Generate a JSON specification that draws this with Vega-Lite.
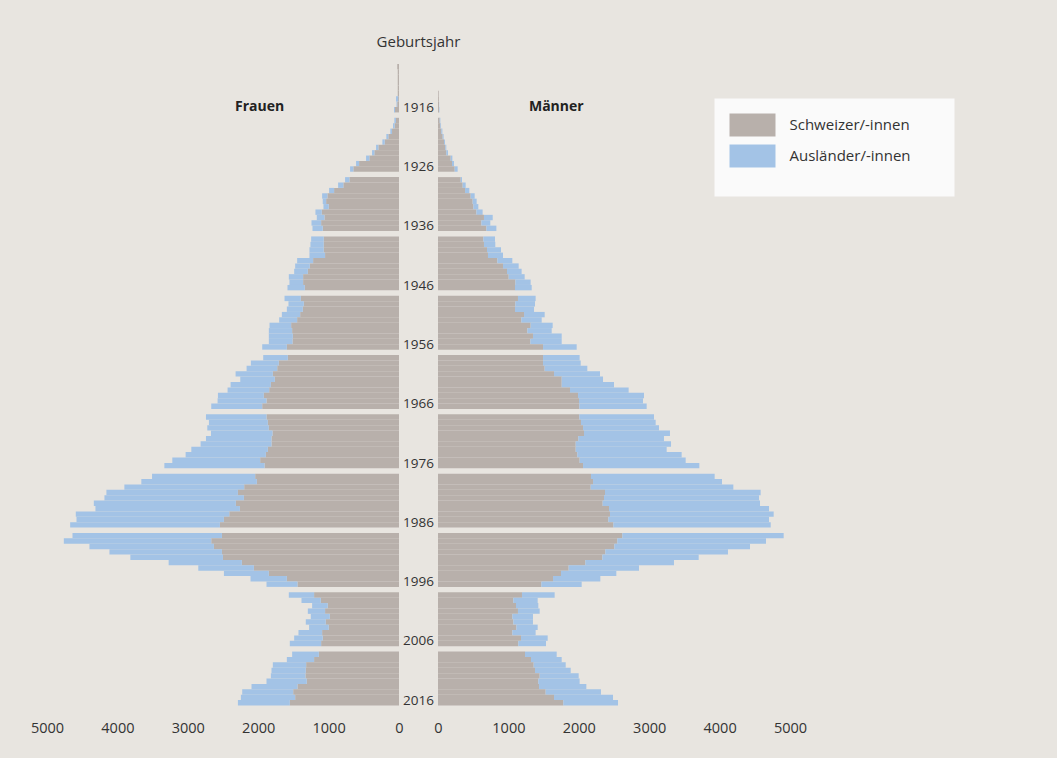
{
"$schema": "https://vega.github.io/schema/vega-lite/v6.json",
"background": "#e8e5e0",
"padding": {"left": 30, "top": 34.5, "right": 113, "bottom": 23.5},
"bounds": "flush",
"spacing": 0,
"config": {
  "font": "Open Sans",
  "view": {"stroke": null},
  "axis": {"domain": false, "ticks": false, "grid": false, "labelFontSize": 14.5, "labelColor": "#333333", "labelPadding": 16, "labelFlush": false, "labelOverlap": false, "title": null, "labelFont": "Open Sans"}
},
"datasets": {
"frauen": [
{"jahr":"1907","Schweizer/-innen":0,"Ausländer/-innen":0},
{"jahr":"1908","Schweizer/-innen":25,"Ausländer/-innen":0},
{"jahr":"1909","Schweizer/-innen":18,"Ausländer/-innen":0},
{"jahr":"1910","Schweizer/-innen":18,"Ausländer/-innen":0},
{"jahr":"1911","Schweizer/-innen":18,"Ausländer/-innen":0},
{"jahr":"1912","Schweizer/-innen":18,"Ausländer/-innen":0},
{"jahr":"1913","Schweizer/-innen":18,"Ausländer/-innen":0},
{"jahr":"1914","Schweizer/-innen":12,"Ausländer/-innen":30},
{"jahr":"1915","Schweizer/-innen":25,"Ausländer/-innen":10},
{"jahr":"1916","Schweizer/-innen":57,"Ausländer/-innen":14},
{"jahr":"1917","Schweizer/-innen":43,"Ausländer/-innen":23},
{"jahr":"1918","Schweizer/-innen":61,"Ausländer/-innen":24},
{"jahr":"1919","Schweizer/-innen":99,"Ausländer/-innen":24},
{"jahr":"1920","Schweizer/-innen":151,"Ausländer/-innen":29},
{"jahr":"1921","Schweizer/-innen":203,"Ausländer/-innen":33},
{"jahr":"1922","Schweizer/-innen":293,"Ausländer/-innen":33},
{"jahr":"1923","Schweizer/-innen":350,"Ausländer/-innen":33},
{"jahr":"1924","Schweizer/-innen":421,"Ausländer/-innen":47},
{"jahr":"1925","Schweizer/-innen":567,"Ausländer/-innen":43},
{"jahr":"1926","Schweizer/-innen":648,"Ausländer/-innen":47},
{"jahr":"1927","Schweizer/-innen":704,"Ausländer/-innen":62},
{"jahr":"1928","Schweizer/-innen":790,"Ausländer/-innen":75},
{"jahr":"1929","Schweizer/-innen":922,"Ausländer/-innen":71},
{"jahr":"1930","Schweizer/-innen":1017,"Ausländer/-innen":75},
{"jahr":"1931","Schweizer/-innen":1035,"Ausländer/-innen":48},
{"jahr":"1932","Schweizer/-innen":998,"Ausländer/-innen":75},
{"jahr":"1933","Schweizer/-innen":1097,"Ausländer/-innen":90},
{"jahr":"1934","Schweizer/-innen":1059,"Ausländer/-innen":109},
{"jahr":"1935","Schweizer/-innen":1106,"Ausländer/-innen":137},
{"jahr":"1936","Schweizer/-innen":1083,"Ausländer/-innen":146},
{"jahr":"1937","Schweizer/-innen":1069,"Ausländer/-innen":179},
{"jahr":"1938","Schweizer/-innen":1069,"Ausländer/-innen":189},
{"jahr":"1939","Schweizer/-innen":1069,"Ausländer/-innen":203},
{"jahr":"1940","Schweizer/-innen":1050,"Ausländer/-innen":222},
{"jahr":"1941","Schweizer/-innen":1220,"Ausländer/-innen":227},
{"jahr":"1942","Schweizer/-innen":1267,"Ausländer/-innen":208},
{"jahr":"1943","Schweizer/-innen":1295,"Ausländer/-innen":194},
{"jahr":"1944","Schweizer/-innen":1362,"Ausländer/-innen":203},
{"jahr":"1945","Schweizer/-innen":1362,"Ausländer/-innen":194},
{"jahr":"1946","Schweizer/-innen":1338,"Ausländer/-innen":246},
{"jahr":"1947","Schweizer/-innen":1395,"Ausländer/-innen":231},
{"jahr":"1948","Schweizer/-innen":1352,"Ausländer/-innen":218},
{"jahr":"1949","Schweizer/-innen":1366,"Ausländer/-innen":227},
{"jahr":"1950","Schweizer/-innen":1404,"Ausländer/-innen":260},
{"jahr":"1951","Schweizer/-innen":1447,"Ausländer/-innen":255},
{"jahr":"1952","Schweizer/-innen":1532,"Ausländer/-innen":307},
{"jahr":"1953","Schweizer/-innen":1518,"Ausländer/-innen":331},
{"jahr":"1954","Schweizer/-innen":1508,"Ausländer/-innen":341},
{"jahr":"1955","Schweizer/-innen":1513,"Ausländer/-innen":336},
{"jahr":"1956","Schweizer/-innen":1593,"Ausländer/-innen":350},
{"jahr":"1957","Schweizer/-innen":1579,"Ausländer/-innen":350},
{"jahr":"1958","Schweizer/-innen":1707,"Ausländer/-innen":397},
{"jahr":"1959","Schweizer/-innen":1730,"Ausländer/-innen":435},
{"jahr":"1960","Schweizer/-innen":1792,"Ausländer/-innen":529},
{"jahr":"1961","Schweizer/-innen":1764,"Ausländer/-innen":491},
{"jahr":"1962","Schweizer/-innen":1820,"Ausländer/-innen":572},
{"jahr":"1963","Schweizer/-innen":1844,"Ausländer/-innen":591},
{"jahr":"1964","Schweizer/-innen":1920,"Ausländer/-innen":652},
{"jahr":"1965","Schweizer/-innen":1882,"Ausländer/-innen":695},
{"jahr":"1966","Schweizer/-innen":1943,"Ausländer/-innen":724},
{"jahr":"1967","Schweizer/-innen":1882,"Ausländer/-innen":860},
{"jahr":"1968","Schweizer/-innen":1863,"Ausländer/-innen":837},
{"jahr":"1969","Schweizer/-innen":1849,"Ausländer/-innen":874},
{"jahr":"1970","Schweizer/-innen":1797,"Ausländer/-innen":874},
{"jahr":"1971","Schweizer/-innen":1811,"Ausländer/-innen":931},
{"jahr":"1972","Schweizer/-innen":1811,"Ausländer/-innen":1007},
{"jahr":"1973","Schweizer/-innen":1863,"Ausländer/-innen":1087},
{"jahr":"1974","Schweizer/-innen":1891,"Ausländer/-innen":1140},
{"jahr":"1975","Schweizer/-innen":1972,"Ausländer/-innen":1248},
{"jahr":"1976","Schweizer/-innen":1910,"Ausländer/-innen":1423},
{"jahr":"1977","Schweizer/-innen":2043,"Ausländer/-innen":1465},
{"jahr":"1978","Schweizer/-innen":2019,"Ausländer/-innen":1641},
{"jahr":"1979","Schweizer/-innen":2199,"Ausländer/-innen":1702},
{"jahr":"1980","Schweizer/-innen":2288,"Ausländer/-innen":1868},
{"jahr":"1981","Schweizer/-innen":2203,"Ausländer/-innen":1981},
{"jahr":"1982","Schweizer/-innen":2317,"Ausländer/-innen":2018},
{"jahr":"1983","Schweizer/-innen":2260,"Ausländer/-innen":2052},
{"jahr":"1984","Schweizer/-innen":2411,"Ausländer/-innen":2180},
{"jahr":"1985","Schweizer/-innen":2487,"Ausländer/-innen":2094},
{"jahr":"1986","Schweizer/-innen":2544,"Ausländer/-innen":2127},
{"jahr":"1987","Schweizer/-innen":2515,"Ausländer/-innen":2123},
{"jahr":"1988","Schweizer/-innen":2667,"Ausländer/-innen":2094},
{"jahr":"1989","Schweizer/-innen":2629,"Ausländer/-innen":1768},
{"jahr":"1990","Schweizer/-innen":2515,"Ausländer/-innen":1598},
{"jahr":"1991","Schweizer/-innen":2501,"Ausländer/-innen":1315},
{"jahr":"1992","Schweizer/-innen":2232,"Ausländer/-innen":1040},
{"jahr":"1993","Schweizer/-innen":2061,"Ausländer/-innen":790},
{"jahr":"1994","Schweizer/-innen":1849,"Ausländer/-innen":638},
{"jahr":"1995","Schweizer/-innen":1593,"Ausländer/-innen":516},
{"jahr":"1996","Schweizer/-innen":1442,"Ausländer/-innen":440},
{"jahr":"1997","Schweizer/-innen":1206,"Ausländer/-innen":359},
{"jahr":"1998","Schweizer/-innen":1111,"Ausländer/-innen":274},
{"jahr":"1999","Schweizer/-innen":1012,"Ausländer/-innen":222},
{"jahr":"2000","Schweizer/-innen":1050,"Ausländer/-innen":245},
{"jahr":"2001","Schweizer/-innen":983,"Ausländer/-innen":270},
{"jahr":"2002","Schweizer/-innen":1040,"Ausländer/-innen":284},
{"jahr":"2003","Schweizer/-innen":998,"Ausländer/-innen":279},
{"jahr":"2004","Schweizer/-innen":1092,"Ausländer/-innen":336},
{"jahr":"2005","Schweizer/-innen":1083,"Ausländer/-innen":406},
{"jahr":"2006","Schweizer/-innen":1106,"Ausländer/-innen":445},
{"jahr":"2007","Schweizer/-innen":1139,"Ausländer/-innen":379},
{"jahr":"2008","Schweizer/-innen":1206,"Ausländer/-innen":387},
{"jahr":"2009","Schweizer/-innen":1319,"Ausländer/-innen":473},
{"jahr":"2010","Schweizer/-innen":1324,"Ausländer/-innen":487},
{"jahr":"2011","Schweizer/-innen":1329,"Ausländer/-innen":491},
{"jahr":"2012","Schweizer/-innen":1310,"Ausländer/-innen":572},
{"jahr":"2013","Schweizer/-innen":1442,"Ausländer/-innen":653},
{"jahr":"2014","Schweizer/-innen":1503,"Ausländer/-innen":724},
{"jahr":"2015","Schweizer/-innen":1475,"Ausländer/-innen":771},
{"jahr":"2016","Schweizer/-innen":1551,"Ausländer/-innen":737}
],
"maenner": [
{"jahr":"1907","Schweizer/-innen":0,"Ausländer/-innen":0},
{"jahr":"1908","Schweizer/-innen":0,"Ausländer/-innen":0},
{"jahr":"1909","Schweizer/-innen":0,"Ausländer/-innen":0},
{"jahr":"1910","Schweizer/-innen":0,"Ausländer/-innen":0},
{"jahr":"1911","Schweizer/-innen":0,"Ausländer/-innen":0},
{"jahr":"1912","Schweizer/-innen":0,"Ausländer/-innen":0},
{"jahr":"1913","Schweizer/-innen":10,"Ausländer/-innen":0},
{"jahr":"1914","Schweizer/-innen":12,"Ausländer/-innen":0},
{"jahr":"1915","Schweizer/-innen":14,"Ausländer/-innen":2},
{"jahr":"1916","Schweizer/-innen":14,"Ausländer/-innen":6},
{"jahr":"1917","Schweizer/-innen":24,"Ausländer/-innen":9},
{"jahr":"1918","Schweizer/-innen":33,"Ausländer/-innen":10},
{"jahr":"1919","Schweizer/-innen":47,"Ausländer/-innen":15},
{"jahr":"1920","Schweizer/-innen":66,"Ausländer/-innen":14},
{"jahr":"1921","Schweizer/-innen":85,"Ausländer/-innen":14},
{"jahr":"1922","Schweizer/-innen":104,"Ausländer/-innen":14},
{"jahr":"1923","Schweizer/-innen":118,"Ausländer/-innen":24},
{"jahr":"1924","Schweizer/-innen":180,"Ausländer/-innen":24},
{"jahr":"1925","Schweizer/-innen":199,"Ausländer/-innen":28},
{"jahr":"1926","Schweizer/-innen":237,"Ausländer/-innen":42},
{"jahr":"1927","Schweizer/-innen":322,"Ausländer/-innen":19},
{"jahr":"1928","Schweizer/-innen":350,"Ausländer/-innen":43},
{"jahr":"1929","Schweizer/-innen":384,"Ausländer/-innen":61},
{"jahr":"1930","Schweizer/-innen":464,"Ausländer/-innen":57},
{"jahr":"1931","Schweizer/-innen":492,"Ausländer/-innen":57},
{"jahr":"1932","Schweizer/-innen":502,"Ausländer/-innen":71},
{"jahr":"1933","Schweizer/-innen":545,"Ausländer/-innen":89},
{"jahr":"1934","Schweizer/-innen":653,"Ausländer/-innen":124},
{"jahr":"1935","Schweizer/-innen":616,"Ausländer/-innen":127},
{"jahr":"1936","Schweizer/-innen":687,"Ausländer/-innen":142},
{"jahr":"1937","Schweizer/-innen":644,"Ausländer/-innen":166},
{"jahr":"1938","Schweizer/-innen":653,"Ausländer/-innen":161},
{"jahr":"1939","Schweizer/-innen":696,"Ausländer/-innen":199},
{"jahr":"1940","Schweizer/-innen":710,"Ausländer/-innen":213},
{"jahr":"1941","Schweizer/-innen":843,"Ausländer/-innen":213},
{"jahr":"1942","Schweizer/-innen":923,"Ausländer/-innen":223},
{"jahr":"1943","Schweizer/-innen":980,"Ausländer/-innen":208},
{"jahr":"1944","Schweizer/-innen":1004,"Ausländer/-innen":227},
{"jahr":"1945","Schweizer/-innen":1099,"Ausländer/-innen":217},
{"jahr":"1946","Schweizer/-innen":1094,"Ausländer/-innen":237},
{"jahr":"1947","Schweizer/-innen":1136,"Ausländer/-innen":251},
{"jahr":"1948","Schweizer/-innen":1099,"Ausländer/-innen":279},
{"jahr":"1949","Schweizer/-innen":1094,"Ausländer/-innen":270},
{"jahr":"1950","Schweizer/-innen":1222,"Ausländer/-innen":293},
{"jahr":"1951","Schweizer/-innen":1184,"Ausländer/-innen":289},
{"jahr":"1952","Schweizer/-innen":1316,"Ausländer/-innen":313},
{"jahr":"1953","Schweizer/-innen":1269,"Ausländer/-innen":346},
{"jahr":"1954","Schweizer/-innen":1349,"Ausländer/-innen":408},
{"jahr":"1955","Schweizer/-innen":1312,"Ausländer/-innen":445},
{"jahr":"1956","Schweizer/-innen":1492,"Ausländer/-innen":478},
{"jahr":"1957","Schweizer/-innen":1492,"Ausländer/-innen":520},
{"jahr":"1958","Schweizer/-innen":1492,"Ausländer/-innen":535},
{"jahr":"1959","Schweizer/-innen":1515,"Ausländer/-innen":606},
{"jahr":"1960","Schweizer/-innen":1648,"Ausländer/-innen":653},
{"jahr":"1961","Schweizer/-innen":1757,"Ausländer/-innen":587},
{"jahr":"1962","Schweizer/-innen":1757,"Ausländer/-innen":743},
{"jahr":"1963","Schweizer/-innen":1875,"Ausländer/-innen":833},
{"jahr":"1964","Schweizer/-innen":1989,"Ausländer/-innen":937},
{"jahr":"1965","Schweizer/-innen":2003,"Ausländer/-innen":909},
{"jahr":"1966","Schweizer/-innen":2008,"Ausländer/-innen":956},
{"jahr":"1967","Schweizer/-innen":2008,"Ausländer/-innen":1060},
{"jahr":"1968","Schweizer/-innen":2031,"Ausländer/-innen":1061},
{"jahr":"1969","Schweizer/-innen":2060,"Ausländer/-innen":1079},
{"jahr":"1970","Schweizer/-innen":2074,"Ausländer/-innen":1221},
{"jahr":"1971","Schweizer/-innen":1993,"Ausländer/-innen":1217},
{"jahr":"1972","Schweizer/-innen":1956,"Ausländer/-innen":1354},
{"jahr":"1973","Schweizer/-innen":1956,"Ausländer/-innen":1292},
{"jahr":"1974","Schweizer/-innen":1979,"Ausländer/-innen":1482},
{"jahr":"1975","Schweizer/-innen":2012,"Ausländer/-innen":1506},
{"jahr":"1976","Schweizer/-innen":2060,"Ausländer/-innen":1652},
{"jahr":"1977","Schweizer/-innen":2173,"Ausländer/-innen":1757},
{"jahr":"1978","Schweizer/-innen":2202,"Ausländer/-innen":1832},
{"jahr":"1979","Schweizer/-innen":2169,"Ausländer/-innen":2026},
{"jahr":"1980","Schweizer/-innen":2372,"Ausländer/-innen":2211},
{"jahr":"1981","Schweizer/-innen":2358,"Ausländer/-innen":2202},
{"jahr":"1982","Schweizer/-innen":2339,"Ausländer/-innen":2235},
{"jahr":"1983","Schweizer/-innen":2429,"Ausländer/-innen":2273},
{"jahr":"1984","Schweizer/-innen":2443,"Ausländer/-innen":2325},
{"jahr":"1985","Schweizer/-innen":2420,"Ausländer/-innen":2282},
{"jahr":"1986","Schweizer/-innen":2491,"Ausländer/-innen":2235},
{"jahr":"1987","Schweizer/-innen":2618,"Ausländer/-innen":2292},
{"jahr":"1988","Schweizer/-innen":2547,"Ausländer/-innen":2112},
{"jahr":"1989","Schweizer/-innen":2505,"Ausländer/-innen":1927},
{"jahr":"1990","Schweizer/-innen":2377,"Ausländer/-innen":1742},
{"jahr":"1991","Schweizer/-innen":2334,"Ausländer/-innen":1369},
{"jahr":"1992","Schweizer/-innen":2093,"Ausländer/-innen":1259},
{"jahr":"1993","Schweizer/-innen":1856,"Ausländer/-innen":999},
{"jahr":"1994","Schweizer/-innen":1747,"Ausländer/-innen":786},
{"jahr":"1995","Schweizer/-innen":1634,"Ausländer/-innen":672},
{"jahr":"1996","Schweizer/-innen":1468,"Ausländer/-innen":573},
{"jahr":"1997","Schweizer/-innen":1193,"Ausländer/-innen":464},
{"jahr":"1998","Schweizer/-innen":1070,"Ausländer/-innen":346},
{"jahr":"1999","Schweizer/-innen":1108,"Ausländer/-innen":317},
{"jahr":"2000","Schweizer/-innen":1136,"Ausländer/-innen":308},
{"jahr":"2001","Schweizer/-innen":1056,"Ausländer/-innen":293},
{"jahr":"2002","Schweizer/-innen":1070,"Ausländer/-innen":279},
{"jahr":"2003","Schweizer/-innen":1113,"Ausländer/-innen":303},
{"jahr":"2004","Schweizer/-innen":1056,"Ausländer/-innen":331},
{"jahr":"2005","Schweizer/-innen":1179,"Ausländer/-innen":379},
{"jahr":"2006","Schweizer/-innen":1141,"Ausländer/-innen":393},
{"jahr":"2007","Schweizer/-innen":1236,"Ausländer/-innen":450},
{"jahr":"2008","Schweizer/-innen":1321,"Ausländer/-innen":436},
{"jahr":"2009","Schweizer/-innen":1359,"Ausländer/-innen":455},
{"jahr":"2010","Schweizer/-innen":1378,"Ausländer/-innen":507},
{"jahr":"2011","Schweizer/-innen":1444,"Ausländer/-innen":554},
{"jahr":"2012","Schweizer/-innen":1425,"Ausländer/-innen":587},
{"jahr":"2013","Schweizer/-innen":1435,"Ausländer/-innen":672},
{"jahr":"2014","Schweizer/-innen":1529,"Ausländer/-innen":786},
{"jahr":"2015","Schweizer/-innen":1648,"Ausländer/-innen":838},
{"jahr":"2016","Schweizer/-innen":1780,"Ausländer/-innen":777}
]
},
"hconcat": [
{
  "width": 352, "height": 647,
  "layer": [
    {
      "data": {"name": "frauen"},
      "transform": [{"fold": ["Schweizer/-innen", "Ausländer/-innen"], "as": ["gruppe", "wert"]}],
      "mark": {"type": "bar"},
      "encoding": {
        "y": {"field": "jahr", "type": "ordinal", "axis": null, "scale": {"paddingInner": 0, "paddingOuter": 0, "domain": ["1907","1908","1909","1910","1911","1912","1913","1914","1915","1916","L1","1917","1918","1919","1920","1921","1922","1923","1924","1925","1926","L2","1927","1928","1929","1930","1931","1932","1933","1934","1935","1936","L3","1937","1938","1939","1940","1941","1942","1943","1944","1945","1946","L4","1947","1948","1949","1950","1951","1952","1953","1954","1955","1956","L5","1957","1958","1959","1960","1961","1962","1963","1964","1965","1966","L6","1967","1968","1969","1970","1971","1972","1973","1974","1975","1976","L7","1977","1978","1979","1980","1981","1982","1983","1984","1985","1986","L8","1987","1988","1989","1990","1991","1992","1993","1994","1995","1996","L9","1997","1998","1999","2000","2001","2002","2003","2004","2005","2006","L10","2007","2008","2009","2010","2011","2012","2013","2014","2015","2016"]}},
        "x": {"field": "wert", "type": "quantitative", "stack": "zero", "scale": {"domain": [0, 5000], "reverse": true, "nice": false}, "axis": {"values": [0, 1000, 2000, 3000, 4000, 5000], "format": "d"}},
        "color": {"field": "gruppe", "type": "nominal", "scale": {"domain": ["Schweizer/-innen", "Ausländer/-innen"], "range": ["#b8b0ab", "#a3c3e6"]},
          "legend": {"orient": "none", "legendX": 667.5, "legendY": 40, "title": "\u2800\u2800\u2800\u2800\u2800\u2800\u2800\u2800\u2800\u2800\u2800\u2800\u2800\u2800\u2800\u2800\u2800\u2800\u2800\u2800\u2800\u2800\u2800\u2800\u2800\u2800\u2800\u2800\u2800\u2800", "titleOrient": "bottom", "titleFontSize": 10, "titleLimit": 2000, "titlePadding": 4, "padding": 15, "fillColor": "#fafafa", "symbolType": "M-1,-1H3V1H-1Z", "symbolSize": 529, "symbolStrokeWidth": 0, "symbolOpacity": 1, "labelFontSize": 15, "labelColor": "#333333", "labelOffset": 37, "rowPadding": 8, "labelFont": "Open Sans", "labelLimit": 300}},
        "order": {"field": "gruppe", "sort": "descending"}
      }
    },
    {
      "data": {"values": [{"wert": 1980, "jahr": "1916", "titel": "Frauen"}]},
      "mark": {"type": "text", "fontWeight": "bold", "fontSize": 14, "dy": -3, "color": "#222222"},
      "encoding": {
        "x": {"field": "wert", "type": "quantitative"},
        "y": {"field": "jahr", "type": "ordinal"},
        "text": {"field": "titel"}
      }
    }
  ]
},
{
  "width": 39, "height": 647,
  "title": {"text": "Geburtsjahr", "fontSize": 15, "fontWeight": "normal", "font": "Open Sans", "color": "#333333", "offset": 9, "anchor": "middle"},
  "data": {"name": "frauen"},
  "transform": [{"filter": {"field": "jahr", "oneOf": ["1916","1926","1936","1946","1956","1966","1976","1986","1996","2006","2016"]}}],
  "mark": {"type": "text", "fontSize": 13.5, "color": "#333333", "dy": -2},
  "encoding": {
    "y": {"field": "jahr", "type": "ordinal", "axis": null, "scale": {"paddingInner": 0, "paddingOuter": 0, "domain": ["1907","1908","1909","1910","1911","1912","1913","1914","1915","1916","L1","1917","1918","1919","1920","1921","1922","1923","1924","1925","1926","L2","1927","1928","1929","1930","1931","1932","1933","1934","1935","1936","L3","1937","1938","1939","1940","1941","1942","1943","1944","1945","1946","L4","1947","1948","1949","1950","1951","1952","1953","1954","1955","1956","L5","1957","1958","1959","1960","1961","1962","1963","1964","1965","1966","L6","1967","1968","1969","1970","1971","1972","1973","1974","1975","1976","L7","1977","1978","1979","1980","1981","1982","1983","1984","1985","1986","L8","1987","1988","1989","1990","1991","1992","1993","1994","1995","1996","L9","1997","1998","1999","2000","2001","2002","2003","2004","2005","2006","L10","2007","2008","2009","2010","2011","2012","2013","2014","2015","2016"]}},
    "text": {"field": "jahr"}
  }
},
{
  "width": 352, "height": 647,
  "layer": [
    {
      "data": {"name": "maenner"},
      "transform": [{"fold": ["Schweizer/-innen", "Ausländer/-innen"], "as": ["gruppe", "wert"]}],
      "mark": {"type": "bar"},
      "encoding": {
        "y": {"field": "jahr", "type": "ordinal", "axis": null, "scale": {"paddingInner": 0, "paddingOuter": 0, "domain": ["1907","1908","1909","1910","1911","1912","1913","1914","1915","1916","L1","1917","1918","1919","1920","1921","1922","1923","1924","1925","1926","L2","1927","1928","1929","1930","1931","1932","1933","1934","1935","1936","L3","1937","1938","1939","1940","1941","1942","1943","1944","1945","1946","L4","1947","1948","1949","1950","1951","1952","1953","1954","1955","1956","L5","1957","1958","1959","1960","1961","1962","1963","1964","1965","1966","L6","1967","1968","1969","1970","1971","1972","1973","1974","1975","1976","L7","1977","1978","1979","1980","1981","1982","1983","1984","1985","1986","L8","1987","1988","1989","1990","1991","1992","1993","1994","1995","1996","L9","1997","1998","1999","2000","2001","2002","2003","2004","2005","2006","L10","2007","2008","2009","2010","2011","2012","2013","2014","2015","2016"]}},
        "x": {"field": "wert", "type": "quantitative", "stack": "zero", "scale": {"domain": [0, 5000], "nice": false}, "axis": {"values": [0, 1000, 2000, 3000, 4000, 5000], "format": "d"}},
        "color": {"field": "gruppe", "type": "nominal"},
        "order": {"field": "gruppe", "sort": "descending"}
      }
    },
    {
      "data": {"values": [{"wert": 1680, "jahr": "1916", "titel": "Männer"}]},
      "mark": {"type": "text", "fontWeight": "bold", "fontSize": 14, "dy": -3, "color": "#222222"},
      "encoding": {
        "x": {"field": "wert", "type": "quantitative"},
        "y": {"field": "jahr", "type": "ordinal"},
        "text": {"field": "titel"}
      }
    }
  ]
}
]
}
